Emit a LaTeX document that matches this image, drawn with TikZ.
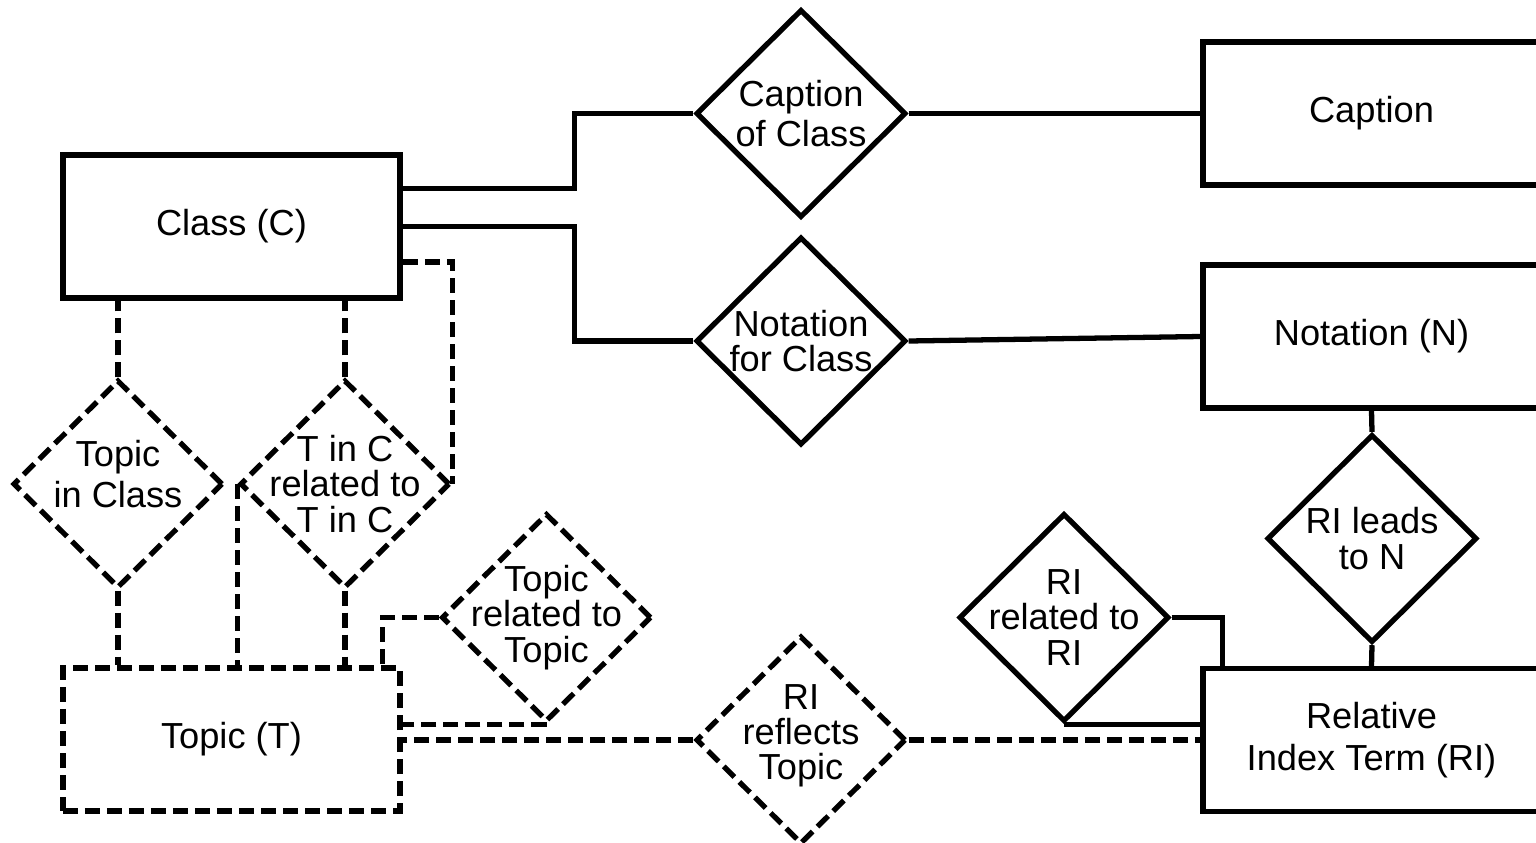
\documentclass[tikz,border=0pt]{standalone}
\usepackage{fontspec}
\setmainfont{Liberation Sans}
\usepackage{tikz}
\usetikzlibrary{shapes.geometric}
\tikzset{
  entity/.style  = {draw,rectangle,line width=1.5pt,minimum width=3.37cm,minimum height=1.43cm},
  relship/.style = {draw,diamond,line width=1.5pt,minimum width=2.1cm,minimum height=2.08cm,inner sep=0pt},
  weak/.style    = {dash pattern=on 0.15cm off 0.07cm},
  link/.style    = {line width=1.5pt}
}
\begin{document}
\begin{tikzpicture}[x=0.01cm,y=-0.01cm,font=\fontsize{10.3}{10}\selectfont]
  \useasboundingbox (0,0) rectangle (1536,842);
  \fill[white] (0,0) rectangle (1536,842);
  \clip (0,0) rectangle (1536,842);
  \node[entity] (class)    at (231.5,226.5) {Class (C)};
  \node[entity] (caption)  at (1371.5,113.5) {Caption};
  \node[entity] (notation) at (1371.5,336.5) {Notation (N)};
  \node[entity,align=center] (ri) at (1371.5,740) {Relative\\[2pt]Index Term (RI)};
  \node[entity,weak] (topic) at (231.5,739.5) {Topic (T)};
  \node[relship,label={[align=center]center:Caption\\[1.5pt]of Class}] (capof) at (801,113.5) {};
  \node[relship,label={[align=center]center:Notation\\for Class}] (notfor) at (801,341) {};
  \node[relship,weak,label={[align=center,yshift=0.1cm]center:Topic\\[1.7pt]in Class}] (tic) at (118,484) {};
  \node[relship,weak,label={[align=center]center:T in C\\related to\\T in C}] (tct) at (345,484) {};
  \node[relship,weak,label={[align=center]center:Topic\\related to\\Topic}] (trt) at (546.5,617.5) {};
  \node[relship,weak,label={[align=center,yshift=0.04cm]center:RI\\reflects\\Topic}] (rrt) at (801,740) {};
  \node[relship,label={[align=center]center:RI\\related to\\RI}] (rirel) at (1064,617.5) {};
  \node[relship,label={[align=center]center:RI leads\\to N}] (rilead) at (1372,538.5) {};
  \draw[link] ([yshift=0.38cm]class.east) -- ++(172,0) |- (capof.west);
  \draw[link] (class.east) -- ++(172,0) |- (notfor.west);
  \draw[link] (capof.east) -- (caption.west);
  \draw[link] (notfor.east) -- (notation.west);
  \draw[link] (notation.south) -- (rilead.north);
  \draw[link] (rilead.south) -- (ri.north);
  \draw[link] (rirel.east) -| ([xshift=0.22cm]ri.north west);
  \draw[link] (rirel.south) -- (rirel.south -| ri.west);
  \draw[link,weak] (tic.north) -- (tic.north |- class.south);
  \draw[link,weak] (tct.north) -- (tct.north |- class.south);
  \draw[link,weak] ([yshift=-0.355cm]class.east) -| (tct.east);
  \draw[link,weak] (tic.south) -- (tic.south |- topic.north);
  \draw[link,weak] (tct.south) -- (tct.south |- topic.north);
  \draw[link,weak] (tct.west) -- (tct.west |- topic.north);
  \draw[link,weak] (trt.west) -| ([xshift=-0.2cm]topic.north east);
  \draw[link,weak] (trt.south) -- (trt.south -| topic.east);
  \draw[link,weak] (rrt.west) -- (rrt.west -| topic.east);
  \draw[link,weak] (rrt.east) -- (rrt.east -| ri.west);
\end{tikzpicture}
\end{document}
